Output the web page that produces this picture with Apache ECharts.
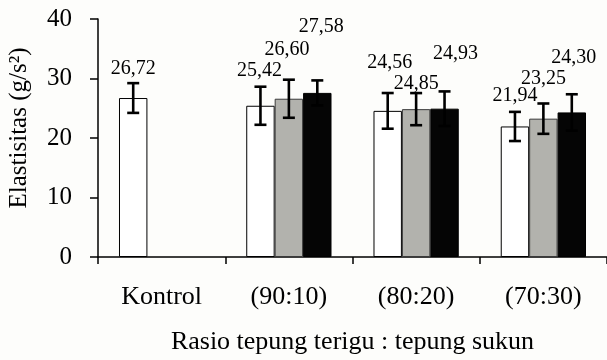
<!DOCTYPE html>
<html>
<head>
<meta charset="utf-8">
<script src="https://cdn.jsdelivr.net/npm/echarts@6/dist/echarts.min.js"></script>
<style>
html,body{margin:0;padding:0;background:#fdfdfb;}
#chart{width:607px;height:360px;}
</style>
</head>
<body>
<div id="chart"></div>
<script>
// ---- data ----
const categories = ['Kontrol', '(90:10)', '(80:20)', '(70:30)'];
const yTicks = [0, 10, 20, 30, 40];
const seriesNames = ['Perlakuan 1', 'Perlakuan 2', 'Perlakuan 3'];
const whiteValues = [26.72, 25.42, 24.56, 21.94];
const grayValues  = [null, 26.60, 24.85, 23.25];
const blackValues = [null, 27.58, 24.93, 24.30];
const whiteSD = [2.5, 3.2, 3.0, 2.45];
const graySD  = [null, 3.2, 2.7, 2.55];
const blackSD = [null, 2.1, 2.9, 3.05];
const axisTitleX = 'Rasio tepung terigu : tepung sukun';
const axisTitleY = 'Elastisitas (g/s\u00B2)';

// ---- styling (label nudges in pixels, relative to bar centre / bar top) ----
const labelNudgeX = [[0, -1, 2, 0], [0, -2, 0, 0], [0, 4, 11, 2]];
const labelNudgeY = [[29, 35, 48, 30.5], [0, 49, 25, 40], [0, 66.5, 55, 54.6]];
const fills = ['#ffffff', '#b2b2ad', '#050505'];
const borders = ['#000000', '#3a3a3a', '#000000'];
const FONT = "'Liberation Serif', 'Times New Roman', serif";
const GAP = 0.33;

const values = [whiteValues, grayValues, blackValues];
const sds = [whiteSD, graySD, blackSD];

const barSeries = values.map((vals, g) => ({
  name: seriesNames[g],
  type: 'bar',
  data: vals,
  barGap: '0%',
  barCategoryGap: (GAP * 100) + '%',
  itemStyle: { color: fills[g], borderColor: borders[g], borderWidth: 1 },
  z: 2
}));

const errData = [];
values.forEach((vals, g) => {
  vals.forEach((v, c) => {
    if (v != null) errData.push([c, g, v, sds[g][c]]);
  });
});

const errSeries = {
  type: 'custom',
  data: errData,
  encode: { x: 0, y: 2 },
  z: 5,
  silent: true,
  renderItem: function (params, api) {
    const c = api.value(0), g = api.value(1), m = api.value(2), s = api.value(3);
    const band = api.size([1, 0])[0];
    const bw = band * (1 - GAP) / 3;
    const base = api.coord([c, m]);
    const cx = base[0] + (g - 1) * bw;
    const yTop = api.coord([c, m + s])[1];
    const yBot = api.coord([c, m - s])[1];
    const cap = 6;
    const ls = { stroke: '#000', lineWidth: 2.6 };
    const txt = m.toFixed(2).replace('.', ',');
    return {
      type: 'group',
      children: [
        { type: 'line', shape: { x1: cx, y1: yTop, x2: cx, y2: yBot }, style: ls },
        { type: 'line', shape: { x1: cx - cap, y1: yTop, x2: cx + cap, y2: yTop }, style: ls },
        { type: 'line', shape: { x1: cx - cap, y1: yBot, x2: cx + cap, y2: yBot }, style: ls },
        { type: 'text', x: cx + labelNudgeX[g][c], y: base[1] - labelNudgeY[g][c],
          style: { text: txt, fill: '#000', font: '20px ' + FONT, align: 'center', verticalAlign: 'middle' } }
      ]
    };
  }
};

const chart = echarts.init(document.getElementById('chart'));
chart.setOption({
  backgroundColor: '#fdfdfb',
  animation: false,
  grid: { left: 98, top: 19, width: 512, height: 241, containLabel: false },
  xAxis: {
    type: 'category',
    data: categories,
    boundaryGap: true,
    axisLine: { lineStyle: { color: '#000', width: 1.5 } },
    axisTick: { show: true, length: 7, lineStyle: { color: '#000', width: 1.5 } },
    axisLabel: { color: '#000', fontFamily: FONT, fontSize: 26, margin: 27 },
    name: axisTitleX,
    nameLocation: 'middle',
    nameGap: 72,
    nameTextStyle: { color: '#000', fontFamily: FONT, fontSize: 26 }
  },
  yAxis: {
    type: 'value',
    min: yTicks[0],
    max: yTicks[yTicks.length - 1],
    interval: yTicks[1] - yTicks[0],
    axisLine: { show: true, lineStyle: { color: '#000', width: 1.5 } },
    axisTick: { show: true, length: 8, lineStyle: { color: '#000', width: 1.5 } },
    splitLine: { show: false },
    axisLabel: { color: '#000', fontFamily: FONT, fontSize: 25, margin: 26 }
  },
  graphic: [{
    type: 'text',
    x: 19, y: 128,
    rotation: Math.PI / 2,
    style: { text: axisTitleY, fill: '#000', font: '25px ' + FONT, align: 'center', verticalAlign: 'middle' }
  }],
  series: barSeries.concat([errSeries])
});
</script>
</body>
</html>
